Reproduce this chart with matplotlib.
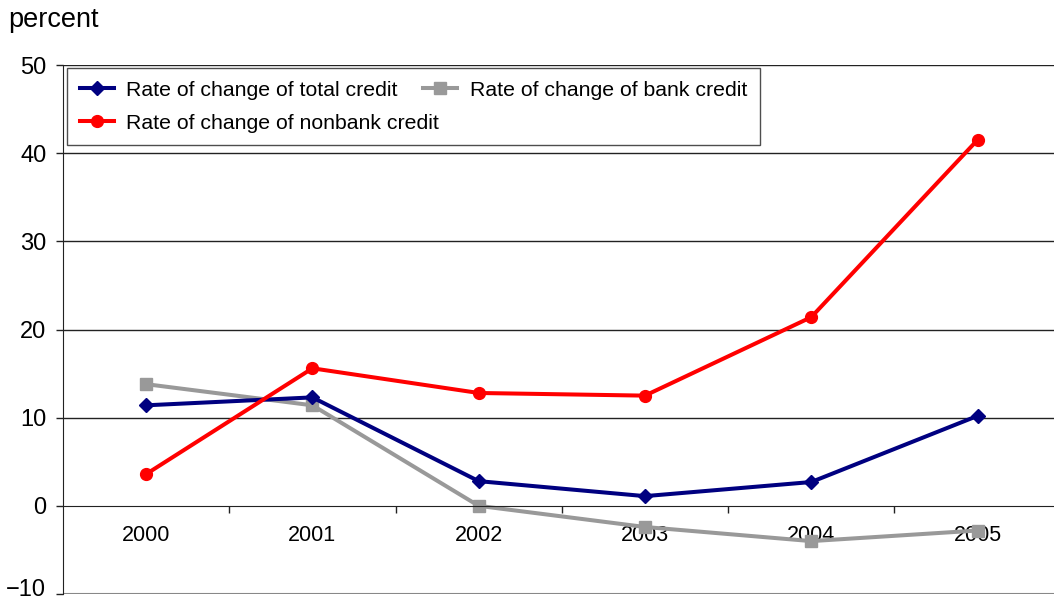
import numpy as np
import matplotlib.pyplot as plt
import matplotlib.transforms as mtransforms
from matplotlib.ticker import FixedLocator

plt.rcParams['font.family'] = ['Liberation Sans', 'DejaVu Sans']

# -------- data --------
years = ['2000', '2001', '2002', '2003', '2004', '2005']
total_credit = [11.4, 12.3, 2.8, 1.1, 2.7, 10.2]
bank_credit = [13.8, 11.4, 0.0, -2.4, -4.0, -2.8]
nonbank_credit = [3.6, 15.6, 12.8, 12.5, 21.4, 41.5]

fig = plt.figure(figsize=(10.54, 6.01), dpi=100)
ax = fig.add_axes([63 / 1054, 7 / 601, 991 / 1054, 529 / 601])

x = np.arange(len(years))

# horizontal gridlines
for v in [10, 20, 30, 40, 50]:
    ax.axhline(v, color='#222222', lw=1.0, zorder=1)

l_total, = ax.plot(x, total_credit, color='#000080', lw=2.9, marker='D', ms=7,
                   label='Rate of change of total credit', zorder=3)
l_bank, = ax.plot(x, bank_credit, color='#999999', lw=2.9, marker='s', ms=8,
                  label='Rate of change of bank credit', zorder=2)
l_nonbank, = ax.plot(x, nonbank_credit, color='#ff0000', lw=2.9, marker='o', ms=8.5,
                     label='Rate of change of nonbank credit', zorder=4)

ax.set_ylim(-10, 50)
ax.set_xlim(-0.5, 5.46)
ax.set_yticks(range(-10, 51, 10))
ax.set_yticklabels(['\u221210', '0', '10', '20', '30', '40', '50'])

# category axis sits at zero, ticks between the years
ax.spines['bottom'].set_position(('data', 0))
ax.spines['bottom'].set_color('#222222')
ax.spines['top'].set_visible(False)
ax.spines['right'].set_visible(False)
ax.spines['left'].set_color('#222222')
ax.axhline(-10, color='#888888', lw=1.5, zorder=1)

ax.set_xticks(x)
ax.set_xticklabels(years)
ax.xaxis.set_minor_locator(FixedLocator(np.arange(0.5, 5, 1)))
ax.tick_params(axis='x', which='major', length=0, pad=14, labelsize=15.5)
ax.tick_params(axis='x', which='minor', length=5, width=1, color='#222222', direction='out')
ax.tick_params(axis='y', length=5, width=1, color='#222222', pad=7, labelsize=17)

# keep the lowest label inside the figure
lowest = ax.get_yticklabels()[0]
lowest.set_transform(lowest.get_transform() +
                     mtransforms.ScaledTranslation(0, 7 / 100, fig.dpi_scale_trans))

fig.text(8 / 1054, 1 - 20 / 601, 'percent', fontsize=19.5, va='center', ha='left')

# column-wise fill: total / nonbank in the first column, bank in the second;
# negative spacing pulls the bank entry right after the total credit text
leg = ax.legend(handles=[l_total, l_nonbank, l_bank], loc='upper left',
                bbox_to_anchor=(4 / 991, 526 / 529), borderaxespad=0, ncol=2,
                fontsize=15.3, frameon=True, fancybox=False, edgecolor='#222222',
                handlelength=1.6, handletextpad=0.6, columnspacing=-0.75,
                borderpad=0.6, labelspacing=0.65)
leg.get_frame().set_linewidth(1.0)

fig.savefig('out.png', dpi=100)
